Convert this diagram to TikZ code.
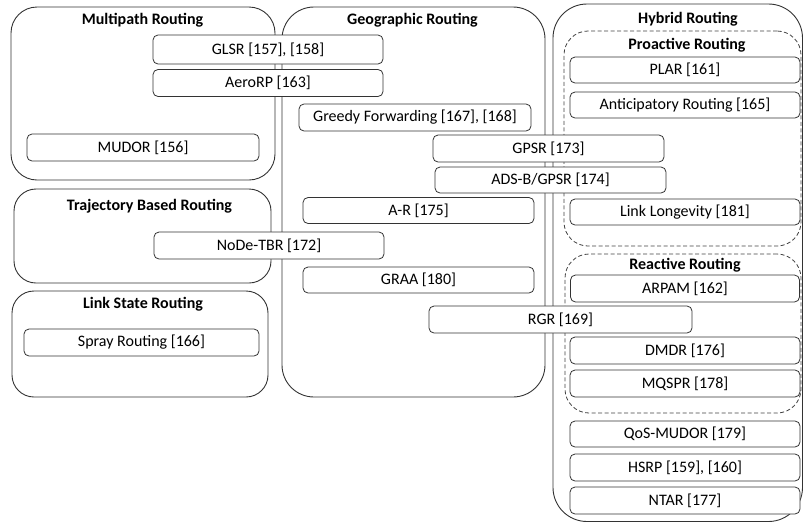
\documentclass[tikz,border=0pt]{standalone}
\usepackage{fontspec}
\setmainfont{Carlito}
\begin{document}
\begin{tikzpicture}[x=1pt,y=-1pt,
  group/.style={draw=black!80, line width=0.9pt, rounded corners=#1, inner sep=0pt},
  group/.default=26pt,
  subgroup/.style={draw=black!75, line width=0.8pt, dashed, dash pattern=on 4pt off 2.5pt, rounded corners=24pt, inner sep=0pt},
  item/.style={draw=black!80, line width=0.8pt, fill=white, rounded corners=5pt, inner sep=0pt,
    font=\fontsize{16}{18}\selectfont, text=black},
  title/.style={font=\fontsize{16}{18}\selectfont\bfseries, text=black, inner sep=0pt}]
\useasboundingbox (0,0) rectangle (804,523);

% category containers
\node[group, minimum width=264pt, minimum height=173pt] (mp) at (143,93.5) {};
\node[group=32pt, minimum width=263pt, minimum height=390pt] (geo) at (413.5,202) {};
\node[group=34pt, minimum width=249.5pt, minimum height=517.5pt] (hyb) at (677.75,262.75) {};
\node[group=22pt, minimum width=257pt, minimum height=94pt] (traj) at (142.5,236) {};
\node[group=22pt, minimum width=256pt, minimum height=106pt] (ls) at (140,344) {};
\node[subgroup, minimum width=237pt, minimum height=215pt] (pro) at (682.5,138.5) {};
\node[subgroup, minimum width=236pt, minimum height=159pt] (rea) at (683,333.5) {};

% container titles
\node[title] (tmp) at (142.5,20) {Multipath Routing};
\node[title] (tgeo) at (412.5,20) {Geographic Routing};
\node[title] (thyb) at (688,19) {Hybrid Routing};
\node[title] (tpro) at (687,45) {Proactive Routing};
\node[title] (ttraj) at (149.5,206) {Trajectory Based Routing};
\node[title] (tls) at (143,304) {Link State Routing};
\node[title] (trea) at (685,265) {Reactive Routing};

% protocols
\node[item, minimum width=230pt, minimum height=29pt] (glsr) at (268,49.5) {GLSR [157], [158]};
\node[item, minimum width=230pt, minimum height=27pt] (aerorp) at (268,83) {AeroRP [163]};
\node[item, minimum width=232pt, minimum height=27pt] (greedy) at (415,117.5) {Greedy Forwarding [167], [168]};
\node[item, minimum width=232pt, minimum height=27pt] (mudor) at (143,147.5) {MUDOR [156]};
\node[item, minimum width=231pt, minimum height=27pt] (gpsr) at (548.5,148.5) {GPSR [173]};
\node[item, minimum width=231pt, minimum height=26pt] (adsb) at (550.5,180) {ADS-B/GPSR [174]};
\node[item, minimum width=231pt, minimum height=26pt] (ar) at (418.5,210.5) {A-R [175]};
\node[item, minimum width=230pt, minimum height=27pt] (node) at (269,245.5) {NoDe-TBR [172]};
\node[item, minimum width=231pt, minimum height=26pt] (graa) at (418.5,280) {GRAA [180]};
\node[item, minimum width=235pt, minimum height=27pt] (spray) at (141.5,342.5) {Spray Routing [166]};
\node[item, minimum width=263pt, minimum height=27pt] (rgr) at (560.5,319.5) {RGR [169]};

\node[item, minimum width=230pt, minimum height=26pt] (plar) at (685,70) {PLAR [161]};
\node[item, minimum width=230pt, minimum height=26pt] (antic) at (685,105) {Anticipatory Routing [165]};
\node[item, minimum width=230pt, minimum height=26pt] (linklong) at (685,212) {Link Longevity [181]};
\node[item, minimum width=229pt, minimum height=27pt] (arpam) at (685,288.5) {ARPAM [162]};
\node[item, minimum width=230pt, minimum height=27pt] (dmdr) at (685,350.5) {DMDR [176]};
\node[item, minimum width=230pt, minimum height=27pt] (mqspr) at (685,383.5) {MQSPR [178]};
\node[item, minimum width=230pt, minimum height=26pt] (qos) at (685,434) {QoS-MUDOR [179]};
\node[item, minimum width=230pt, minimum height=27pt] (hsrp) at (685,467.5) {HSRP [159], [160]};
\node[item, minimum width=230pt, minimum height=27pt] (ntar) at (685,500.5) {NTAR [177]};
\end{tikzpicture}
\end{document}
